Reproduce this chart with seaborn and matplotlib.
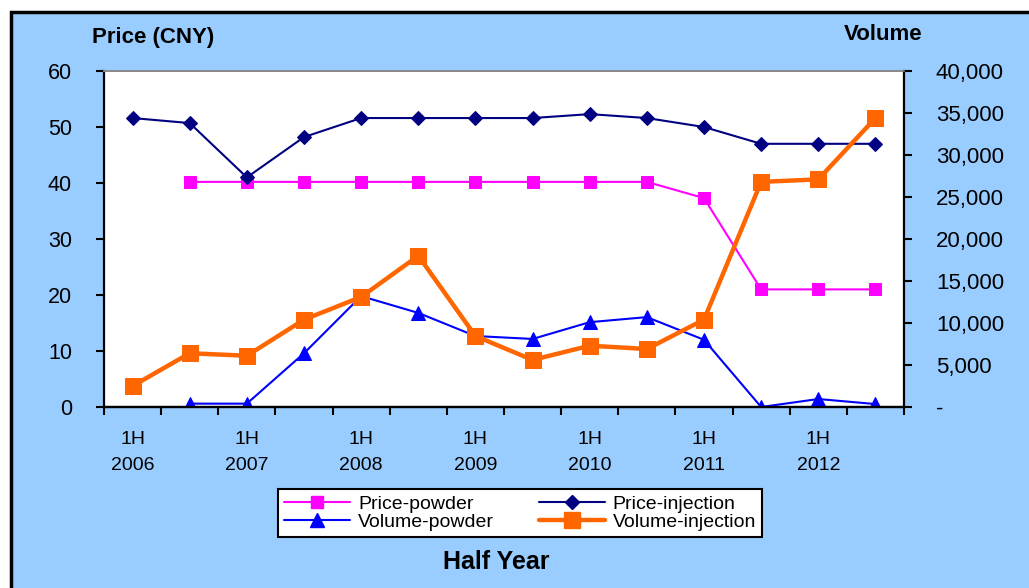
import numpy as np
import pandas as pd
import matplotlib
matplotlib.use("Agg")
import matplotlib.pyplot as plt
import matplotlib.ticker as mticker
from matplotlib.patches import Rectangle
from matplotlib.lines import Line2D
import seaborn as sns

periods = ["1H 2006", "2H 2006", "1H 2007", "2H 2007", "1H 2008", "2H 2008", "1H 2009",
           "2H 2009", "1H 2010", "2H 2010", "1H 2011", "2H 2011", "1H 2012", "2H 2012"]
price_powder = [np.nan, 40.2, 40.2, 40.2, 40.2, 40.2, 40.2, 40.2, 40.2, 40.2, 37.3, 21, 21, 21]
price_injection = [51.6, 50.7, 41, 48.2, 51.6, 51.6, 51.6, 51.6, 52.3, 51.6, 50, 47, 47, 47]
volume_powder = [np.nan, 400, 400, 6400, 13200, 11200, 8450, 8100, 10100, 10700, 8000, 0, 950, 350]
volume_injection = [2500, 6400, 6100, 10400, 13100, 18000, 8450, 5600, 7300, 6900, 10400,
                    26800, 27100, 34400]
tick_labels = ["1H\n2006", "1H\n2007", "1H\n2008", "1H\n2009", "1H\n2010", "1H\n2011", "1H\n2012"]

sns.set_theme(style="white")
plt.rcParams['font.family'] = ['Liberation Sans', 'DejaVu Sans']
plt.rcParams['text.color'] = 'black'
plt.rcParams['xtick.color'] = 'black'
plt.rcParams['ytick.color'] = 'black'
plt.rcParams['axes.labelcolor'] = 'black'

bg = "#99CCFF"
fig = plt.figure(figsize=(10.29, 5.88), dpi=100)
fig.patch.set_facecolor("white")
fig.patches.append(Rectangle((11/1029, -0.05), 1.2, 1 - 12/588 + 0.05, transform=fig.transFigure,
                             facecolor=bg, edgecolor="black", linewidth=2.5, zorder=-10))

ax = fig.add_axes([104/1029, 1 - 407/588, 800/1029, 336/588])
ax.set_facecolor("white")
ax2 = ax.twinx()

x = np.arange(len(periods))
df = pd.DataFrame({"x": x, "pp": price_powder, "pi": price_injection,
                   "vp": volume_powder, "vi": volume_injection})

c_pp = "#FF00FF"
c_pi = "#000080"
c_vp = "#0000FF"
c_vi = "#FF6600"

sns.lineplot(data=df, x="x", y="pp", ax=ax, color=c_pp, marker="s", markersize=9,
             markeredgecolor=c_pp, linewidth=1.5)
sns.lineplot(data=df, x="x", y="pi", ax=ax, color=c_pi, marker="D", markersize=7.5,
             markeredgecolor=c_pi, linewidth=1.5)
sns.lineplot(data=df, x="x", y="vp", ax=ax2, color=c_vp, marker="^", markersize=10,
             markeredgecolor=c_vp, linewidth=1.5)
sns.lineplot(data=df, x="x", y="vi", ax=ax2, color=c_vi, marker="s", markersize=12,
             markeredgecolor=c_vi, linewidth=3.2)

ax.set_xlim(-0.5, 13.5)
ax.set_ylim(0, 60)
ax2.set_ylim(0, 40000)
ax.set_yticks(np.arange(0, 61, 10))
ax2.set_yticks(np.arange(0, 40001, 5000))
ax2.yaxis.set_major_formatter(mticker.FuncFormatter(lambda v, p: "-" if v == 0 else f"{int(v):,}"))

ax.set_xticks(np.arange(0, 14, 2))
ax.set_xticklabels(tick_labels, fontsize=14, linespacing=1.75)
ax.set_xticks(np.arange(-0.5, 14, 1), minor=True)
ax.tick_params(axis="x", which="major", bottom=True, length=0, pad=17)
ax.tick_params(axis="x", which="minor", bottom=True, length=6, width=1.5, direction="out", color="black")
ax.tick_params(axis="y", left=True, length=6, width=1.5, direction="out", labelsize=15.5, pad=17,
               color="black")
ax2.tick_params(axis="y", right=True, length=6, width=1.5, direction="out", labelsize=16, pad=17,
                color="black")
ax.set_xlabel("")
ax.set_ylabel("")
ax2.set_ylabel("")
ax2.set_xlabel("")

for a in (ax, ax2):
    for s in ("left", "right", "bottom"):
        a.spines[s].set_color("black")
        a.spines[s].set_linewidth(1.6)
    a.spines["top"].set_color("#888888")
    a.spines["top"].set_linewidth(1.2)
ax.spines["right"].set_visible(False)
ax2.spines["left"].set_visible(False)

fig.text(92/1029, 1 - 37/588, "Price (CNY)", fontsize=16, fontweight="bold", va="center", ha="left")
fig.text(922/1029, 1 - 35/588, "Volume", fontsize=16, fontweight="bold", va="center", ha="right")
fig.text(496/1029, 1 - 562/588, "Half Year", fontsize=18, fontweight="bold", va="center", ha="center")

handles = [
    Line2D([], [], color=c_pp, marker="s", markersize=9, linewidth=1.5),
    Line2D([], [], color=c_vp, marker="^", markersize=10, linewidth=1.5),
    Line2D([], [], color=c_pi, marker="D", markersize=7.5, linewidth=1.5),
    Line2D([], [], color=c_vi, marker="s", markersize=12, linewidth=3.2),
]
labels = ["Price-powder", "Volume-powder", "Price-injection", "Volume-injection"]
leg = fig.legend(handles, labels, ncol=2, loc="center", bbox_to_anchor=(520/1029, 1 - 513/588),
                 fontsize=14, frameon=True, fancybox=False, edgecolor="black", framealpha=1,
                 borderpad=0.3, labelspacing=0.05, columnspacing=2.3, handlelength=3.4,
                 handletextpad=0.4)
leg.get_frame().set_linewidth(1.5)
leg.get_frame().set_facecolor("white")

fig.savefig("out.png", dpi=100, facecolor=fig.get_facecolor())
